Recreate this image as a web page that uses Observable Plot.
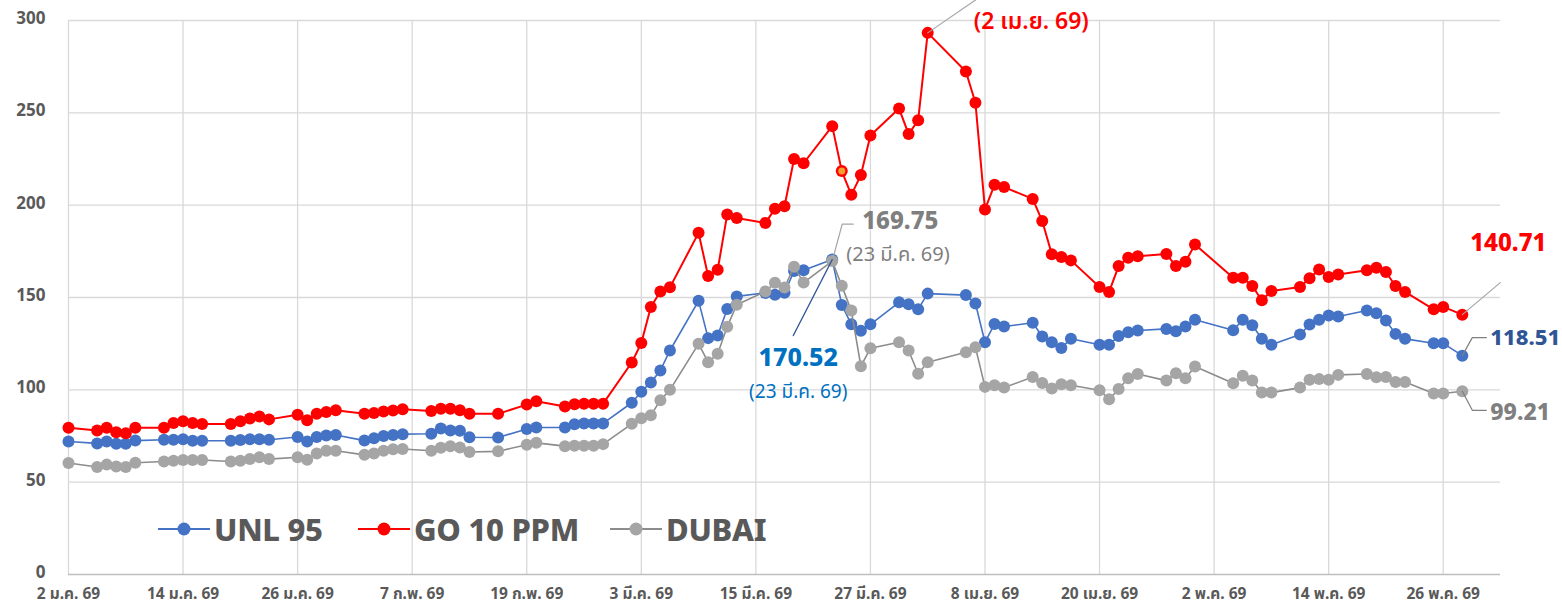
<!DOCTYPE html>
<html>
<head>
<meta charset="utf-8">
<script src="https://cdn.jsdelivr.net/npm/d3@7"></script>
<script src="https://cdn.jsdelivr.net/npm/@observablehq/plot@0.6"></script>
<style>
  html, body { margin: 0; padding: 0; background: #fff; }
  #wrap { position: relative; width: 1562px; height: 603px; font-family: "Noto Sans", "Noto Sans Thai", "Noto Sans CJK SC", sans-serif; }
  #legend .item { position: absolute; top: 512px; display: flex; align-items: center; }
  #legend .lab { font-size: 31px; font-weight: 800; color: #595959; margin-left: 4px; letter-spacing: -0.3px; line-height: 34px; }
</style>
</head>
<body>
<div id="wrap"><div id="chart"></div><div id="legend"></div></div>
<script>
// ---- data ----
const dates = [
  "2026-01-02","2026-01-05","2026-01-06","2026-01-07","2026-01-08","2026-01-09",
  "2026-01-12","2026-01-13","2026-01-14","2026-01-15","2026-01-16",
  "2026-01-19","2026-01-20","2026-01-21","2026-01-22","2026-01-23",
  "2026-01-26","2026-01-27","2026-01-28","2026-01-29","2026-01-30",
  "2026-02-02","2026-02-03","2026-02-04","2026-02-05","2026-02-06",
  "2026-02-09","2026-02-10","2026-02-11","2026-02-12","2026-02-13",
  "2026-02-16","2026-02-19","2026-02-20",
  "2026-02-23","2026-02-24","2026-02-25","2026-02-26","2026-02-27",
  "2026-03-02","2026-03-03","2026-03-04","2026-03-05","2026-03-06",
  "2026-03-09","2026-03-10","2026-03-11","2026-03-12","2026-03-13",
  "2026-03-16","2026-03-17","2026-03-18","2026-03-19","2026-03-20",
  "2026-03-23","2026-03-24","2026-03-25","2026-03-26","2026-03-27",
  "2026-03-30","2026-03-31","2026-04-01","2026-04-02",
  "2026-04-06","2026-04-07","2026-04-08","2026-04-09","2026-04-10",
  "2026-04-13","2026-04-14","2026-04-15","2026-04-16","2026-04-17",
  "2026-04-20","2026-04-21","2026-04-22","2026-04-23","2026-04-24",
  "2026-04-27","2026-04-28","2026-04-29","2026-04-30",
  "2026-05-04","2026-05-05","2026-05-06","2026-05-07","2026-05-08",
  "2026-05-11","2026-05-12","2026-05-13","2026-05-14","2026-05-15",
  "2026-05-18","2026-05-19","2026-05-20","2026-05-21","2026-05-22",
  "2026-05-25","2026-05-26","2026-05-28"
];
const unl95 = [
  72, 71, 72, 70.8, 70.8, 72.5, 73, 73, 73.2, 72.4, 72.4, 72.4, 72.8, 73.3, 73.3, 73, 74.5, 72, 74.5, 75.3, 75.5,
  72.5, 73.8, 75, 75.6, 76, 76.2, 79, 78, 77.8, 74.3, 74.2, 78.8, 79.6, 79.6, 81.4, 81.8, 81.8, 81.8,
  93, 99, 104, 110.5, 121.3, 148.2, 128, 129.4, 143.8, 150.6, 152.5, 151.5, 152.6, 164.3, 164.7, 170.52, 146, 135.5, 132, 135.5, 147.4, 146.4,
  143.7, 152.1, 151.3, 146.8, 125.8, 135.6, 134.3, 136.3, 128.9, 125.8, 122.6, 127.7, 124.4, 124.4, 129.2, 131.2, 132.1, 133, 131.7, 134.3, 137.9,
  132.3, 137.9, 135, 127.7, 124.4, 130, 135.4, 137.9, 140.3, 139.7, 143, 141.5, 137.5, 130.3, 127.6, 125.2, 125.2, 118.51
];
const go10 = [
  79.5, 78, 79.5, 77, 76.5, 79.5, 79.5, 82, 83, 82, 81.5, 81.5, 83, 84.5, 85.5, 84, 86.5, 83.5, 87, 88, 89,
  87, 87.5, 88.3, 88.8, 89.5, 88.6, 89.8, 89.8, 89, 87, 87, 92, 93.8, 91, 92.2, 92.5, 92.5, 92.5,
  114.8, 125.3, 144.9, 153.3, 155.5, 185, 161.6, 165, 195, 193, 190.4, 198, 199.4, 225, 222.7, 242.8, 218.5, 205.6, 216.3, 237.7, 252.3, 238.5,
  246, 293.3, 272.4, 255.5, 197.7, 211, 209.8, 203.4, 191.4, 173.4, 171.9, 170.1, 155.7, 153, 167, 171.5, 172.4, 173.6, 167, 169.4, 178.7,
  160.7, 160.7, 156.2, 148.5, 153.5, 155.7, 160.4, 165.2, 161.1, 162.5, 164.7, 166.1, 163.8, 156.2, 153, 143.6, 144.9, 140.71
];
const dubai = [
  60.4, 58.2, 59.5, 58.5, 58.2, 60.5, 61.2, 61.6, 62, 62, 62, 61.2, 61.6, 62.5, 63.5, 62.5, 63.5, 62.2, 65.5, 67, 67,
  64.8, 65.5, 67, 67.8, 68, 67, 68.6, 69.5, 68.8, 66.3, 66.7, 70.3, 71.3, 69.5, 69.7, 69.7, 69.7, 70.6,
  81.6, 84.6, 86.2, 94.4, 100, 124.9, 115, 119.5, 134.2, 146.1, 153.3, 158, 155.4, 166.6, 158.1, 169.75, 156.3, 142.9, 112.8, 122.5, 125.8, 121.3,
  108.7, 114.9, 120.3, 123, 101.6, 102.5, 101.2, 106.9, 103.7, 100.7, 103, 102.5, 99.8, 94.9, 100.4, 106.3, 108.6, 105, 109, 106.3, 112.6,
  103.6, 107.6, 105, 98.5, 98.5, 101.2, 105.4, 105.8, 105.4, 108.1, 108.6, 106.8, 107, 104.3, 104.3, 98, 98, 99.21
];
const seriesNames = ["UNL 95", "GO 10 PPM", "DUBAI"];
const seriesColors = ["#4472c4", "#ff0000", "#a5a5a5"];
const lineColors = ["#4472c4", "#ff0000", "#8c8c8c"];
const legendLeft = [158, 358, 610];
const tickDates = ["2026-01-02","2026-01-14","2026-01-26","2026-02-07","2026-02-19","2026-03-03","2026-03-15","2026-03-27","2026-04-08","2026-04-20","2026-05-02","2026-05-14","2026-05-26"];
const tickLabels = ["2 ม.ค. 69","14 ม.ค. 69","26 ม.ค. 69","7 ก.พ. 69","19 ก.พ. 69","3 มี.ค. 69","15 มี.ค. 69","27 มี.ค. 69","8 เม.ย. 69","20 เม.ย. 69","2 พ.ค. 69","14 พ.ค. 69","26 พ.ค. 69"];
const yTicks = [0, 50, 100, 150, 200, 250, 300];
const highlightDate = "2026-03-24"; // orange marker on GO line

// ---- layout ----
const W = 1562, H = 603, ML = 68, MR = 62, MT = 20, MB = 29;
const x0 = new Date("2026-01-02"), x1 = new Date("2026-06-01");
const nDays = (x1 - x0) / 864e5;
const pxDay = (W - ML - MR) / nDays, pxUnit = (H - MT - MB) / 300;
const off = (date, value, dx, dy) => ({x: new Date(+date + dx / pxDay * 864e5), y: value - dy / pxUnit});

const D = dates.map(s => new Date(s));
const series = [unl95, go10, dubai].map((vals, i) => D.map((d, j) => ({date: d, value: vals[j], s: i})));
const tD = tickDates.map(s => new Date(s));

function leader(date, value, pts, color, w = 1.2) {
  const data = pts.map(([dx, dy]) => off(date, value, dx, dy));
  return Plot.line(data, {x: "x", y: "y", stroke: color, strokeWidth: w});
}
const dMar23 = new Date("2026-03-23"), dApr2 = new Date("2026-04-02"), dLast = new Date("2026-05-28");
const ann = [
  {d: dMar23, v: 169.75, dx: 30, dy: -40, t: "169.75", fill: "#7f7f7f", size: 24, weight: 800, anchor: "start"},
  {d: dMar23, v: 169.75, dx: 14, dy: -6, t: "(23 มี.ค. 69)", fill: "#7f7f7f", size: 20, weight: 400, anchor: "start"},
  {d: dMar23, v: 170.52, dx: -34, dy: 98, t: "170.52", fill: "#0070c0", size: 25, weight: 800, anchor: "middle"},
  {d: dMar23, v: 170.52, dx: -34, dy: 132, t: "(23 มี.ค. 69)", fill: "#0070c0", size: 19, weight: 400, anchor: "middle"},
  {d: dApr2, v: 293.3, dx: 46, dy: -11, t: "(2 เม.ย. 69)", fill: "#ff0000", size: 23, weight: 600, anchor: "start"},
  {d: dLast, v: 140.71, dx: 46, dy: -71, t: "140.71", fill: "#ff0000", size: 24, weight: 800, anchor: "middle"},
  {d: dLast, v: 118.51, dx: 28, dy: -18, t: "118.51", fill: "#2f5597", size: 22, weight: 800, anchor: "start"},
  {d: dLast, v: 99.21, dx: 28, dy: 21, t: "99.21", fill: "#7f7f7f", size: 23, weight: 800, anchor: "start"}
];

const marks = [
  Plot.ruleY(yTicks.slice(1), {stroke: "#d9d9d9", strokeWidth: 1.3}),
  Plot.ruleX(tD, {stroke: "#d9d9d9", strokeWidth: 1.3}),
  Plot.ruleY([0], {stroke: "#bfbfbf", strokeWidth: 1.5}),
  Plot.axisY({ticks: yTicks, tickSize: 0, tickPadding: 23, dy: -2, fontSize: 17, fontWeight: "bold", fill: "#595959", label: null}),
  Plot.axisX({ticks: tD, tickSize: 0, tickPadding: 13, fontSize: 15.5, fontWeight: "bold", fill: "#595959", label: null,
    tickFormat: d => tickLabels[tD.findIndex(t => +t === +d)]})
];
series.forEach((data, i) => {
  marks.push(Plot.line(data, {x: "date", y: "value", stroke: lineColors[i], strokeWidth: i === 1 ? 2 : 1.6}));
  marks.push(Plot.dot(data, {x: "date", y: "value", r: 6, fill: seriesColors[i], stroke: "none"}));
  if (i === 1) {
    marks.push(Plot.dot(data.filter(d => +d.date === +new Date(highlightDate)), {x: "date", y: "value", r: 3.5, fill: "#f0a030", stroke: "none"}));
  }
});
marks.push(
  leader(dMar23, 169.75, [[0, 0], [10, -37], [21, -37]], "#a5a5a5"),
  leader(dMar23, 170.52, [[0, 0], [-39, 76]], "#2f5597"),
  leader(dApr2, 293.3, [[0, 0], [64, -44]], "#a5a5a5"),
  leader(dLast, 140.71, [[0, 0], [38, -32]], "#a5a5a5"),
  leader(dLast, 118.51, [[0, 0], [10, -18], [24, -18]], "#7f7f7f"),
  leader(dLast, 99.21, [[0, 0], [10, 19], [24, 19]], "#7f7f7f")
);
ann.forEach(a => marks.push(Plot.text([a], {x: "d", y: "v", text: "t", dx: a.dx, dy: a.dy, fill: a.fill, fontSize: a.size, fontWeight: a.weight, textAnchor: a.anchor})));

const chart = Plot.plot({
  width: W, height: H,
  marginLeft: ML, marginRight: MR, marginTop: MT, marginBottom: MB,
  style: {fontFamily: "'Noto Sans', 'Noto Sans Thai', sans-serif", background: "#fff", overflow: "hidden"},
  x: {type: "utc", domain: [x0, x1]},
  y: {domain: [0, 300]},
  marks
});
document.getElementById("chart").appendChild(chart);

// legend
const lg = document.getElementById("legend");
seriesNames.forEach((n, i) => {
  const it = document.createElement("div");
  it.className = "item";
  it.style.left = legendLeft[i] + "px";
  it.innerHTML = `<svg width="52" height="20"><line x1="0" x2="52" y1="10" y2="10" stroke="${lineColors[i]}" stroke-width="2"/><circle cx="26" cy="10" r="6.5" fill="${seriesColors[i]}"/></svg><span class="lab">${n}</span>`;
  lg.appendChild(it);
});
</script>
</body>
</html>
